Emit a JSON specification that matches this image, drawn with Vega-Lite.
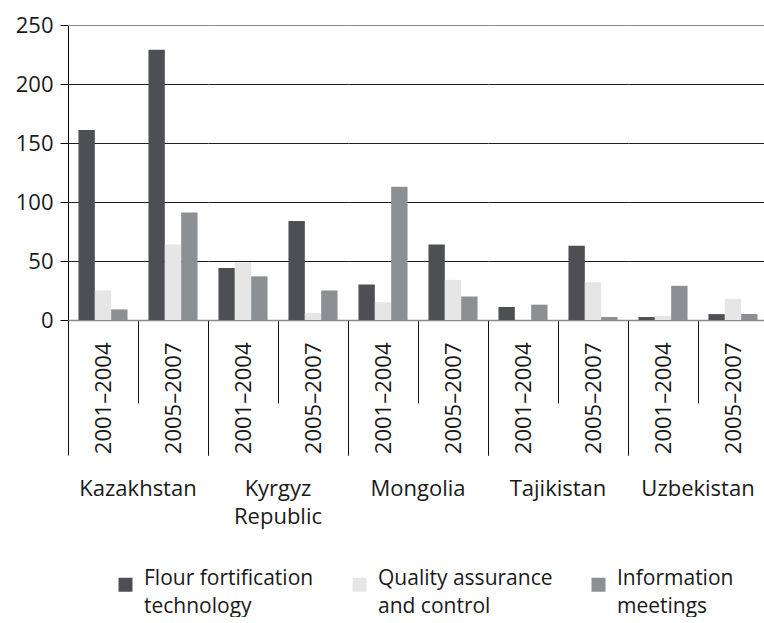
{
  "$schema": "https://vega.github.io/schema/vega-lite/v6.json",
  "autosize": {"type": "pad"},
  "padding": {"left": 15, "top": 14, "right": 0, "bottom": 0},
  "background": "#ffffff",
  "config": {
    "font": "Open Sans",
    "view": {"stroke": null},
    "text": {"color": "#1a1a1a"},
    "style": {"guide-label": {"lineHeight": 28}}
  },
  "data": {
    "values": [
      {"country": "Kazakhstan", "period": "2001–2004", "series": "Flour fortification technology", "value": 161},
      {"country": "Kazakhstan", "period": "2001–2004", "series": "Quality assurance and control", "value": 25},
      {"country": "Kazakhstan", "period": "2001–2004", "series": "Information meetings", "value": 9},
      {"country": "Kazakhstan", "period": "2005–2007", "series": "Flour fortification technology", "value": 229},
      {"country": "Kazakhstan", "period": "2005–2007", "series": "Quality assurance and control", "value": 64},
      {"country": "Kazakhstan", "period": "2005–2007", "series": "Information meetings", "value": 91},
      {"country": "Kyrgyz Republic", "period": "2001–2004", "series": "Flour fortification technology", "value": 44},
      {"country": "Kyrgyz Republic", "period": "2001–2004", "series": "Quality assurance and control", "value": 49},
      {"country": "Kyrgyz Republic", "period": "2001–2004", "series": "Information meetings", "value": 37},
      {"country": "Kyrgyz Republic", "period": "2005–2007", "series": "Flour fortification technology", "value": 84},
      {"country": "Kyrgyz Republic", "period": "2005–2007", "series": "Quality assurance and control", "value": 6},
      {"country": "Kyrgyz Republic", "period": "2005–2007", "series": "Information meetings", "value": 25},
      {"country": "Mongolia", "period": "2001–2004", "series": "Flour fortification technology", "value": 30},
      {"country": "Mongolia", "period": "2001–2004", "series": "Quality assurance and control", "value": 15},
      {"country": "Mongolia", "period": "2001–2004", "series": "Information meetings", "value": 113},
      {"country": "Mongolia", "period": "2005–2007", "series": "Flour fortification technology", "value": 64},
      {"country": "Mongolia", "period": "2005–2007", "series": "Quality assurance and control", "value": 34},
      {"country": "Mongolia", "period": "2005–2007", "series": "Information meetings", "value": 20},
      {"country": "Tajikistan", "period": "2001–2004", "series": "Flour fortification technology", "value": 11},
      {"country": "Tajikistan", "period": "2001–2004", "series": "Quality assurance and control", "value": 0},
      {"country": "Tajikistan", "period": "2001–2004", "series": "Information meetings", "value": 13},
      {"country": "Tajikistan", "period": "2005–2007", "series": "Flour fortification technology", "value": 63},
      {"country": "Tajikistan", "period": "2005–2007", "series": "Quality assurance and control", "value": 32},
      {"country": "Tajikistan", "period": "2005–2007", "series": "Information meetings", "value": 2.5},
      {"country": "Uzbekistan", "period": "2001–2004", "series": "Flour fortification technology", "value": 2.5},
      {"country": "Uzbekistan", "period": "2001–2004", "series": "Quality assurance and control", "value": 3.5},
      {"country": "Uzbekistan", "period": "2001–2004", "series": "Information meetings", "value": 29},
      {"country": "Uzbekistan", "period": "2005–2007", "series": "Flour fortification technology", "value": 5},
      {"country": "Uzbekistan", "period": "2005–2007", "series": "Quality assurance and control", "value": 18},
      {"country": "Uzbekistan", "period": "2005–2007", "series": "Information meetings", "value": 5}
    ]
  },
  "spacing": 0,
  "facet": {
    "column": {
      "field": "country",
      "type": "nominal",
      "sort": ["Kazakhstan", "Kyrgyz Republic", "Mongolia", "Tajikistan", "Uzbekistan"],
      "header": {
        "title": null,
        "labelOrient": "bottom",
        "labelFontSize": 22,
        "labelColor": "#1a1a1a",
        "labelPadding": 23,
        "labelBaseline": "top",
        "labelLineHeight": 28,
        "labelExpr": "datum.value == 'Kyrgyz Republic' ? ['Kyrgyz', 'Republic'] : datum.value"
      }
    }
  },
  "spec": {
    "width": 140,
    "height": 295,
    "mark": {"type": "bar"},
    "encoding": {
      "x": {
        "field": "period",
        "type": "nominal",
        "scale": {"paddingInner": 0, "paddingOuter": 0},
        "axis": {
          "title": null,
          "labelAngle": -90,
          "labelFontSize": 22,
          "labelColor": "#1a1a1a",
          "tickBand": "extent",
          "tickColor": "#111111",
          "tickWidth": 1,
          "tickSize": 135,
          "labelPadding": -113,
          "tickDash": {"condition": {"test": "datum.value == '2001–2004'", "value": [83, 200]}, "value": [400, 1]},
          "domainColor": "#8a8a8a",
          "domainWidth": 1.5
        }
      },
      "xOffset": {
        "field": "series",
        "type": "nominal",
        "sort": ["Flour fortification technology", "Quality assurance and control", "Information meetings"],
        "scale": {"paddingInner": 0, "paddingOuter": 0.64}
      },
      "y": {
        "field": "value",
        "type": "quantitative",
        "scale": {"domain": [0, 250], "nice": false},
        "axis": {
          "title": null,
          "values": [0, 50, 100, 150, 200, 250],
          "labelFontSize": 22,
          "labelColor": "#1a1a1a",
          "labelPadding": 7,
          "tickSize": 8,
          "tickColor": "#000000",
          "domainColor": "#000000",
          "domainWidth": 1,
          "grid": true,
          "gridWidth": 1,
          "gridColor": {"condition": {"test": "datum.value == 250 || datum.value == 0", "value": "#8a8a8a"}, "value": "#1e1e1e"}
        }
      },
      "color": {
        "field": "series",
        "type": "nominal",
        "sort": ["Flour fortification technology", "Quality assurance and control", "Information meetings"],
        "scale": {
          "domain": ["Flour fortification technology", "Quality assurance and control", "Information meetings"],
          "range": ["#4e4f53", "#e6e6e6", "#8d9093"]
        },
        "legend": {
          "orient": "none",
          "legendX": 47,
          "legendY": 549,
          "direction": "horizontal",
          "columns": 3,
          "title": null,
          "symbolType": "square",
          "symbolSize": 196,
          "symbolStrokeWidth": 0,
          "labelFontSize": 21,
          "labelColor": "#1a1a1a",
          "labelLimit": 300,
          "labelOffset": 8,
          "labelBaseline": "alphabetic",
          "columnPadding": 35,
          "labelExpr": "datum.label == 'Flour fortification technology' ? ['Flour fortification', 'technology'] : datum.label == 'Quality assurance and control' ? ['Quality assurance', 'and control'] : ['Information', 'meetings']"
        }
      }
    }
  }
}
